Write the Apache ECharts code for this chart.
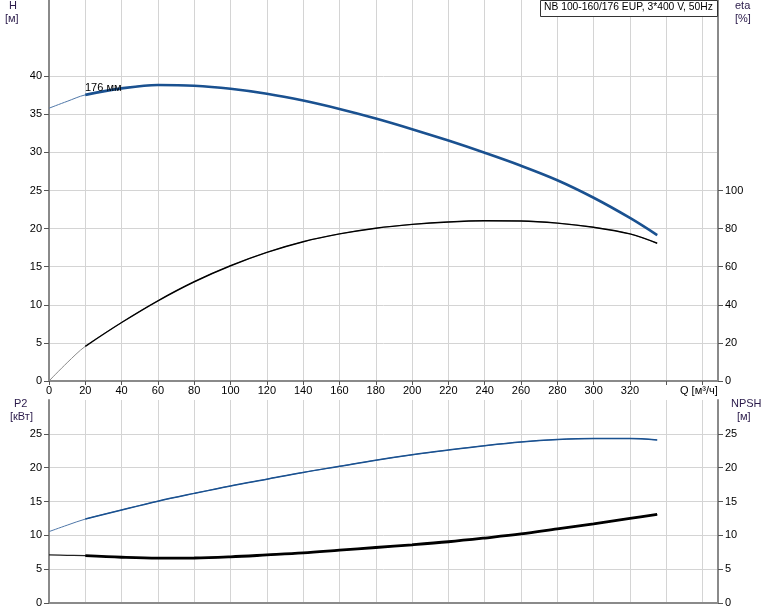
<!DOCTYPE html>
<html>
<head>
<meta charset="utf-8">
<script src="https://cdn.jsdelivr.net/npm/echarts@6/dist/echarts.min.js"></script>
<style>html,body{margin:0;padding:0;background:#fff}#c{width:774px;height:611px}</style>
</head>
<body>
<div id="c"></div>
<script>
// ---- data ----
const flow = [0,10,20,40,60,80,100,120,140,160,180,200,220,240,260,280,300,320,335];
const head = [35.8,36.7,37.55,38.4,38.85,38.75,38.35,37.7,36.8,35.7,34.45,33.05,31.55,29.95,28.25,26.35,24.05,21.4,19.15];
const eta  = [0,9.6,18.2,30.7,42.1,52.1,60.5,67.5,73.1,77.2,80.2,82.2,83.5,84.1,84.0,82.9,80.7,77.2,72.3];
const p2   = [10.55,11.5,12.4,13.75,15.05,16.2,17.3,18.3,19.3,20.2,21.1,21.9,22.6,23.25,23.8,24.15,24.3,24.3,24.1];
const npsh = [7.1,7.05,7.0,6.76,6.63,6.65,6.82,7.1,7.4,7.8,8.2,8.6,9.05,9.6,10.2,10.95,11.7,12.5,13.1];
const xTickLabels = [0,20,40,60,80,100,120,140,160,180,200,220,240,260,280,300,320];
const xTicks = [0,20,40,60,80,100,120,140,160,180,200,220,240,260,280,300,320,340,360];
const hTicks = [0,5,10,15,20,25,30,35,40];
const etaTicks = [0,20,40,60,80,100];
const pTicks = [0,5,10,15,20,25];
const thickFrom = 2; // index where the thick (recommended range) part starts

const pairs = (xs, ys) => xs.map((x, i) => [x, ys[i]]);
const FONT = 'Liberation Sans, Arial, sans-serif';
const AX = '#8a8a8a', GRID = '#d4d4d4', BLUE = '#1a5190';

const chart = echarts.init(document.getElementById('c'), null, {renderer: 'canvas'});

function xAx(gi, showLabels) {
  return {
    type: 'value', gridIndex: gi, min: 0, max: 368.5, interval: 20,
    axisLine: {show: true, onZero: false, lineStyle: {color: AX, width: 2}},
    axisTick: {show: showLabels, customValues: xTicks, length: 4, lineStyle: {color: '#555'}},
    axisLabel: {show: showLabels, customValues: xTickLabels, color: '#000', fontSize: 11, fontFamily: FONT, margin: 4},
    splitLine: {show: true, lineStyle: {color: GRID, width: 1}}
  };
}
function yAx(gi, pos, max, interval, labels, split) {
  return {
    type: 'value', gridIndex: gi, position: pos, min: 0, max: max, interval: interval,
    axisLine: {show: true, onZero: false, lineStyle: {color: AX, width: 2}},
    axisTick: {show: true, customValues: labels, length: 5, lineStyle: {color: '#555'}},
    axisLabel: {customValues: labels, color: '#000', fontSize: 11, fontFamily: FONT, margin: 7},
    splitLine: {show: split, lineStyle: {color: GRID, width: 1}}
  };
}
function line(name, xi, yi, data, color, width, z) {
  return {name, type: 'line', xAxisIndex: xi, yAxisIndex: yi, data, smooth: 0.35,
    showSymbol: false, lineStyle: {color, width}, silent: true, animation: false, z: z};
}

const q = flow;
const tail = arr => arr.slice(thickFrom);
chart.setOption({
  animation: false,
  grid: [
    {left: 49, top: 0, width: 669, height: 381},
    {left: 49, top: 400, width: 669, height: 203}
  ],
  xAxis: [xAx(0, true), xAx(1, false)],
  yAxis: [
    yAx(0, 'left', 50, 5, hTicks, true),
    yAx(0, 'right', 200, 20, etaTicks, false),
    yAx(1, 'left', 30, 5, pTicks, true),
    yAx(1, 'right', 30, 5, pTicks, false)
  ],
  series: [
    line('H thin', 0, 0, pairs(q, head), '#4f77a8', 1, 4),
    line('H', 0, 0, pairs(tail(q), tail(head)), BLUE, 2.6, 5),
    line('eta thin', 0, 1, pairs(q, eta), '#8a8a8a', 1, 4),
    line('eta', 0, 1, pairs(tail(q), tail(eta)), '#000', 1.4, 5),
    line('P2 thin', 1, 2, pairs(q, p2), '#4f77a8', 1, 4),
    line('P2', 1, 2, pairs(tail(q), tail(p2)), BLUE, 1.5, 5),
    line('NPSH thin', 1, 3, pairs(q, npsh), '#222', 1.3, 4),
    line('NPSH', 1, 3, pairs(tail(q), tail(npsh)), '#000', 2.8, 5)
  ],
  graphic: [
    {type: 'text', left: 9, top: 0, style: {text: 'H', font: '11px ' + FONT, fill: '#2a1a4a'}},
    {type: 'text', left: 5, top: 13, style: {text: '[м]', font: '11px ' + FONT, fill: '#2a1a4a'}},
    {type: 'text', left: 735, top: 0, style: {text: 'eta', font: '11px ' + FONT, fill: '#2a1a4a'}},
    {type: 'text', left: 735, top: 13, style: {text: '[%]', font: '11px ' + FONT, fill: '#2a1a4a'}},
    {type: 'text', left: 14, top: 398, style: {text: 'P2', font: '11px ' + FONT, fill: '#2a1a4a'}},
    {type: 'text', left: 10, top: 411, style: {text: '[кВт]', font: '11px ' + FONT, fill: '#2a1a4a'}},
    {type: 'text', left: 731, top: 398, style: {text: 'NPSH', font: '11px ' + FONT, fill: '#2a1a4a'}},
    {type: 'text', left: 737, top: 411, style: {text: '[м]', font: '11px ' + FONT, fill: '#2a1a4a'}},
    {type: 'text', left: 680, top: 385, style: {text: 'Q [м³/ч]', font: '11px ' + FONT, fill: '#000'}, z: 10},
    {type: 'text', left: 85, top: 82, style: {text: '176 мм', font: '11px ' + FONT, fill: '#000'}, z: 10},
    {type: 'rect', left: 540, top: 0, z: 20, shape: {x: 0, y: 0, width: 177, height: 16},
      style: {fill: '#fff', stroke: '#333', lineWidth: 1}},
    {type: 'text', left: 544, top: 2, z: 21,
      style: {text: 'NB 100-160/176 EUP, 3*400 V, 50Hz', font: '10.3px ' + FONT, fill: '#000'}}
  ]
});
</script>
</body>
</html>
